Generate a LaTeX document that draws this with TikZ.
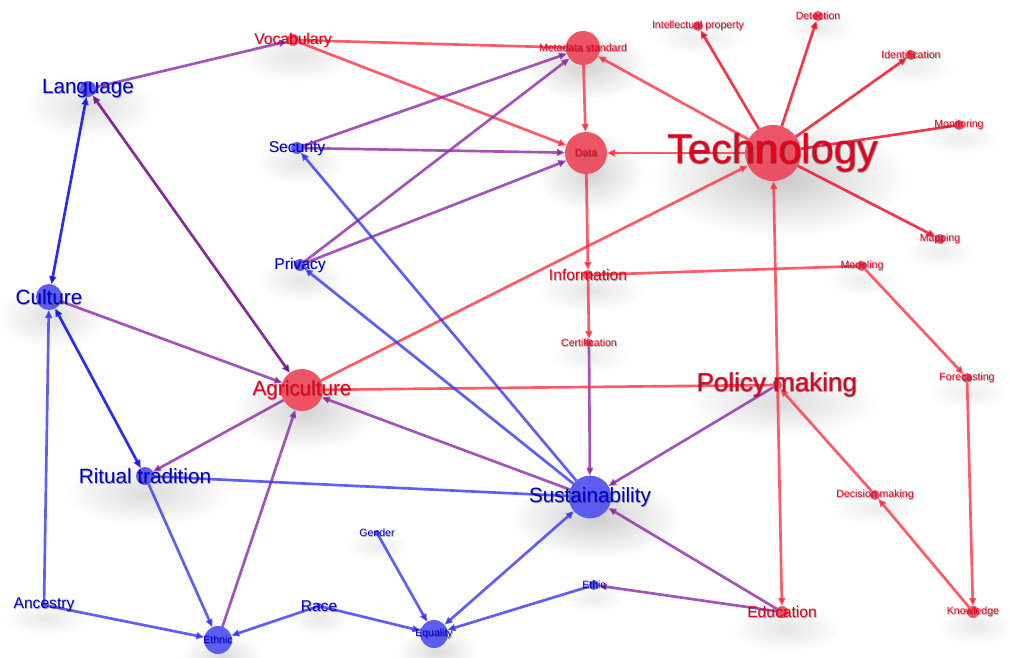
\documentclass[tikz,border=0pt]{standalone}
\usepackage{fontspec}
\setmainfont{Liberation Sans}
\usetikzlibrary{arrows.meta,fadings}
\pgfdeclarelayer{halo}
\pgfdeclarelayer{front}
\pgfsetlayers{halo,main,front}

% palette
\definecolor{rnodec}{RGB}{236,72,90}
\definecolor{bnodec}{RGB}{80,80,240}
\definecolor{lr}{RGB}{232,0,28}
\definecolor{lb}{RGB}{0,0,205}
\definecolor{redl}{RGB}{255,49,67}
\definecolor{techl}{RGB}{240,20,45}
\definecolor{purl}{RGB}{142,42,167}
\definecolor{bluel}{RGB}{55,55,243}
\definecolor{deepb}{RGB}{20,20,240}
\definecolor{deepp}{RGB}{120,20,145}

\tikzfading[name=softhalo, inner color=transparent!30, outer color=transparent!100]

% label with a soft drop shadow
\newcommand\vlabel[4]{%
  \node[#3, text=black, opacity=0.3] at ([shift={(0.8,0.8)}]#2.center) {#4};
  \node[#3] (#1) at (#2.center) {#4};}
% label with a thin dark outline
\newcommand\hlabel[4]{%
  \node[#3, text=black, opacity=0.22] at ([shift={(0.8,0.8)}]#2.center) {#4};
  \node[#3, text=black, opacity=0.22] at ([shift={(-0.7,0.7)}]#2.center) {#4};
  \node[#3, text=black, opacity=0.22] at ([shift={(0.7,-0.7)}]#2.center) {#4};
  \node[#3, text=black, opacity=0.22] at ([shift={(-0.7,-0.7)}]#2.center) {#4};
  \node[#3] (#1) at (#2.center) {#4};}

\begin{document}
\begin{tikzpicture}[x=0.75pt,y=-0.75pt,
  vtx/.style={circle, inner sep=0pt, outer sep=0pt, draw=none},
  rv/.style={vtx, fill=rnodec, fill opacity=0.92},
  bv/.style={vtx, fill=bnodec, fill opacity=0.92},
  lblH/.style={inner sep=0pt, font=\fontsize{31.2pt}{32pt}\selectfont},
  lblP/.style={inner sep=0pt, font=\fontsize{19.5pt}{20pt}\selectfont},
  lblB/.style={inner sep=0pt, font=\fontsize{15.5pt}{16pt}\selectfont},
  lblM/.style={inner sep=0pt, font=\fontsize{11.7pt}{12pt}\selectfont},
  lblS/.style={inner sep=0pt, font=\fontsize{7.9pt}{8pt}\selectfont},
  edge/.style={line width=2pt, draw opacity=0.8},
  redE/.style={edge, draw=redl},
  techE/.style={edge, draw=techl, draw opacity=0.85},
  purE/.style={edge, draw=purl},
  bluE/.style={edge, draw=bluel},
  deepbE/.style={edge, draw=deepb, draw opacity=0.9},
  deeppE/.style={edge, draw=deepp, draw opacity=0.9},
  arr/.style={-{Triangle[length=6pt,width=5pt]}},
  biarr/.style={{Triangle[length=6pt,width=5pt]}-{Triangle[length=6pt,width=5pt]}},
]
\useasboundingbox (0,0) rectangle (1009,657);

% white ground and soft shadows under the nodes
\begin{pgfonlayer}{halo}
\fill[white] (0,0) rectangle (1009,657);
\foreach \cx/\cy/\a/\b/\o in {
  780/178/120/55/0.3, 586/66/58/32/0.25, 590/172/50/38/0.25, 296/56/55/24/0.15,
  90/106/62/30/0.18, 300/163/42/20/0.15, 302/280/42/20/0.15, 52/316/52/30/0.18,
  590/290/52/20/0.15, 306/410/68/38/0.25, 782/402/90/32/0.2, 148/493/78/30/0.2,
  596/518/80/38/0.28, 222/656/38/22/0.2, 437/651/38/22/0.2, 786/628/52/22/0.15,
  976/626/36/18/0.12, 700/38/46/15/0.1, 820/28/34/15/0.1, 912/68/40/15/0.1,
  960/138/38/15/0.1, 940/252/34/15/0.1, 863/280/34/15/0.1, 968/392/38/15/0.1,
  876/508/44/15/0.1, 590/356/38/15/0.1, 378/546/30/14/0.1, 594/598/28/14/0.1,
  46/618/40/16/0.12, 319/618/30/16/0.12}
  \fill[black, opacity=\o, path fading=softhalo]
    (\cx,\cy) ellipse [x radius={0.8*\a pt}, y radius={0.8*\b pt}];
\end{pgfonlayer}

% vertices
\begin{pgfonlayer}{front}
\node[rv, minimum size=42pt]   (tech)  at (773,153) {};
\node[rv, minimum size=25.5pt] (meta)  at (583,48)  {};
\node[rv, minimum size=31.5pt] (data)  at (586,153) {};
\node[rv, minimum size=31.5pt] (agri)  at (302,390) {};
\node[bv, minimum size=32pt]   (sus)   at (590,497) {};
\node[rv, minimum size=9pt]    (voc)   at (293,40)  {};
\node[bv, minimum size=12pt]   (lang)  at (88,89)   {};
\node[rv, minimum size=7.5pt]  (ip)    at (698,26)  {};
\node[rv, minimum size=7.5pt]  (det)   at (818,16)  {};
\node[rv, minimum size=7.5pt]  (ident) at (911,55)  {};
\node[rv, minimum size=7.5pt]  (mon)   at (959,125) {};
\node[rv, minimum size=7.5pt]  (mapn)  at (940,239) {};
\node[bv, minimum size=9pt]    (sec)   at (297,148) {};
\node[bv, minimum size=9pt]    (priv)  at (300,265) {};
\node[bv, minimum size=19.5pt] (cult)  at (49,297)  {};
\node[rv, minimum size=7.5pt]  (info)  at (588,275) {};
\node[rv, minimum size=7.5pt]  (model) at (862,266) {};
\node[rv, minimum size=6pt]    (cert)  at (589,343) {};
\node[rv, minimum size=7.5pt]  (pol)   at (777,385) {};
\node[rv, minimum size=7.5pt]  (fore)  at (967,378) {};
\node[bv, minimum size=13.5pt] (rit)   at (145,476) {};
\node[rv, minimum size=7.5pt]  (dec)   at (875,495) {};
\node[bv, minimum size=4.5pt]  (gen)   at (377,533) {};
\node[bv, minimum size=7.5pt]  (ethic) at (594,585) {};
\node[bv, minimum size=4.5pt]  (anc)   at (44,605)  {};
\node[bv, minimum size=4.5pt]  (race)  at (319,606) {};
\node[bv, minimum size=21pt]   (ethn)  at (218,640) {};
\node[bv, minimum size=21pt]   (equ)   at (434,634) {};
\node[rv, minimum size=9pt]    (edu)   at (782,612) {};
\node[rv, minimum size=9pt]    (know)  at (973,612) {};
\end{pgfonlayer}

% connectors
\draw[purE, arr]  (lang) -- (voc);
\draw[redE]       (voc) -- (meta);
\draw[redE, arr]  (voc) -- (data);
\draw[purE, arr]  (sec) -- (meta);
\draw[purE, arr]  (sec) -- (data);
\draw[purE, arr]  (priv) -- (meta);
\draw[purE, arr]  (priv) -- (data);
\draw[redE, arr]  (meta) -- (data);
\draw[redE, arr]  (tech) -- (meta);
\draw[redE, arr]  (tech) -- (data);
\draw[redE, arr]  (data) -- (info);
\draw[redE, arr]  (info) -- (cert);
\draw[redE]       (info) -- (model);
\draw[purE, arr]  (cert) -- (sus);
\draw[redE, arr]  (agri) -- (tech);
\draw[redE]       (agri) -- (pol);
\draw[purE, arr]  (sus) -- (agri);
\draw[bluE, arr]  (sus) -- (sec);
\draw[bluE, arr]  (sus) -- (priv);
\draw[bluE]       (rit) -- (sus);
\draw[purE, arr]  (pol) -- (sus);
\draw[purE, arr]  (edu) -- (sus);
\draw[purE, arr]  (edu) -- (ethic);
\draw[bluE, arr]  (ethic) -- (equ);
\draw[bluE, biarr] (equ) -- (sus);
\draw[bluE, arr]  (gen) -- (equ);
\draw[bluE, arr]  (race) -- (equ);
\draw[bluE, arr]  (race) -- (ethn);
\draw[bluE, arr]  (anc) -- (ethn);
\draw[bluE, arr]  (anc) -- (cult);
\draw[bluE, arr]  (rit) -- (ethn);
\draw[purE, arr]  (ethn) -- (agri);
\draw[deepbE, biarr] (cult) -- (rit);
\draw[purE, arr]  (cult) -- (agri);
\draw[purE, arr]  (agri) -- (rit);
\draw[deepbE, biarr] (cult) -- (lang);
\draw[deeppE, biarr] (lang) -- (agri);
\draw[techE, arr] (tech) -- (ip);
\draw[techE, arr] (tech) -- (det);
\draw[techE, arr] (tech) -- (ident);
\draw[techE]      (tech) -- (mon);
\draw[techE, arr] (tech) -- (mapn);
\draw[redE, biarr] (tech) -- (edu);
\draw[redE, arr]  (model) -- (fore);
\draw[redE, arr]  (fore) -- (know);
\draw[redE, arr]  (know) -- (dec);
\draw[redE, arr]  (dec) -- (pol);

% labels
\begin{pgfonlayer}{front}
\hlabel{tech-t}{tech}{lblH, text=lr}{Technology}
\hlabel{pol-t}{pol}{lblP, text=lr}{Policy making}
\vlabel{agri-t}{agri}{lblB, text=lr}{Agriculture}
\vlabel{sus-t}{sus}{lblB, text=lb}{Sustainability}
\vlabel{lang-t}{lang}{lblB, text=lb}{Language}
\vlabel{cult-t}{cult}{lblB, text=lb}{Culture}
\vlabel{rit-t}{rit}{lblB, text=lb}{Ritual tradition}
\vlabel{voc-t}{voc}{lblM, text=lr}{Vocabulary}
\vlabel{sec-t}{sec}{lblM, text=lb}{Security}
\vlabel{priv-t}{priv}{lblM, text=lb}{Privacy}
\vlabel{info-t}{info}{lblM, text=lr}{Information}
\vlabel{edu-t}{edu}{lblM, text=lr}{Education}
\vlabel{race-t}{race}{lblM, text=lb}{Race}
\vlabel{anc-t}{anc}{lblM, text=lb}{Ancestry}
\vlabel{meta-t}{meta}{lblS, text=lr}{Metadata standard}
\vlabel{data-t}{data}{lblS, text=lr}{Data}
\vlabel{ip-t}{ip}{lblS, text=lr}{Intellectual property}
\vlabel{det-t}{det}{lblS, text=lr}{Detection}
\vlabel{ident-t}{ident}{lblS, text=lr}{Identification}
\vlabel{mon-t}{mon}{lblS, text=lr}{Monitoring}
\vlabel{mapn-t}{mapn}{lblS, text=lr}{Mapping}
\vlabel{model-t}{model}{lblS, text=lr}{Modeling}
\vlabel{cert-t}{cert}{lblS, text=lr}{Certification}
\vlabel{fore-t}{fore}{lblS, text=lr}{Forecasting}
\vlabel{dec-t}{dec}{lblS, text=lr}{Decision making}
\vlabel{know-t}{know}{lblS, text=lr}{Knowledge}
\vlabel{gen-t}{gen}{lblS, text=lb}{Gender}
\vlabel{ethic-t}{ethic}{lblS, text=lb}{Ethic}
\vlabel{ethn-t}{ethn}{lblS, text=lb}{Ethnic}
\vlabel{equ-t}{equ}{lblS, text=lb}{Equality}
\end{pgfonlayer}
\end{tikzpicture}
\end{document}
